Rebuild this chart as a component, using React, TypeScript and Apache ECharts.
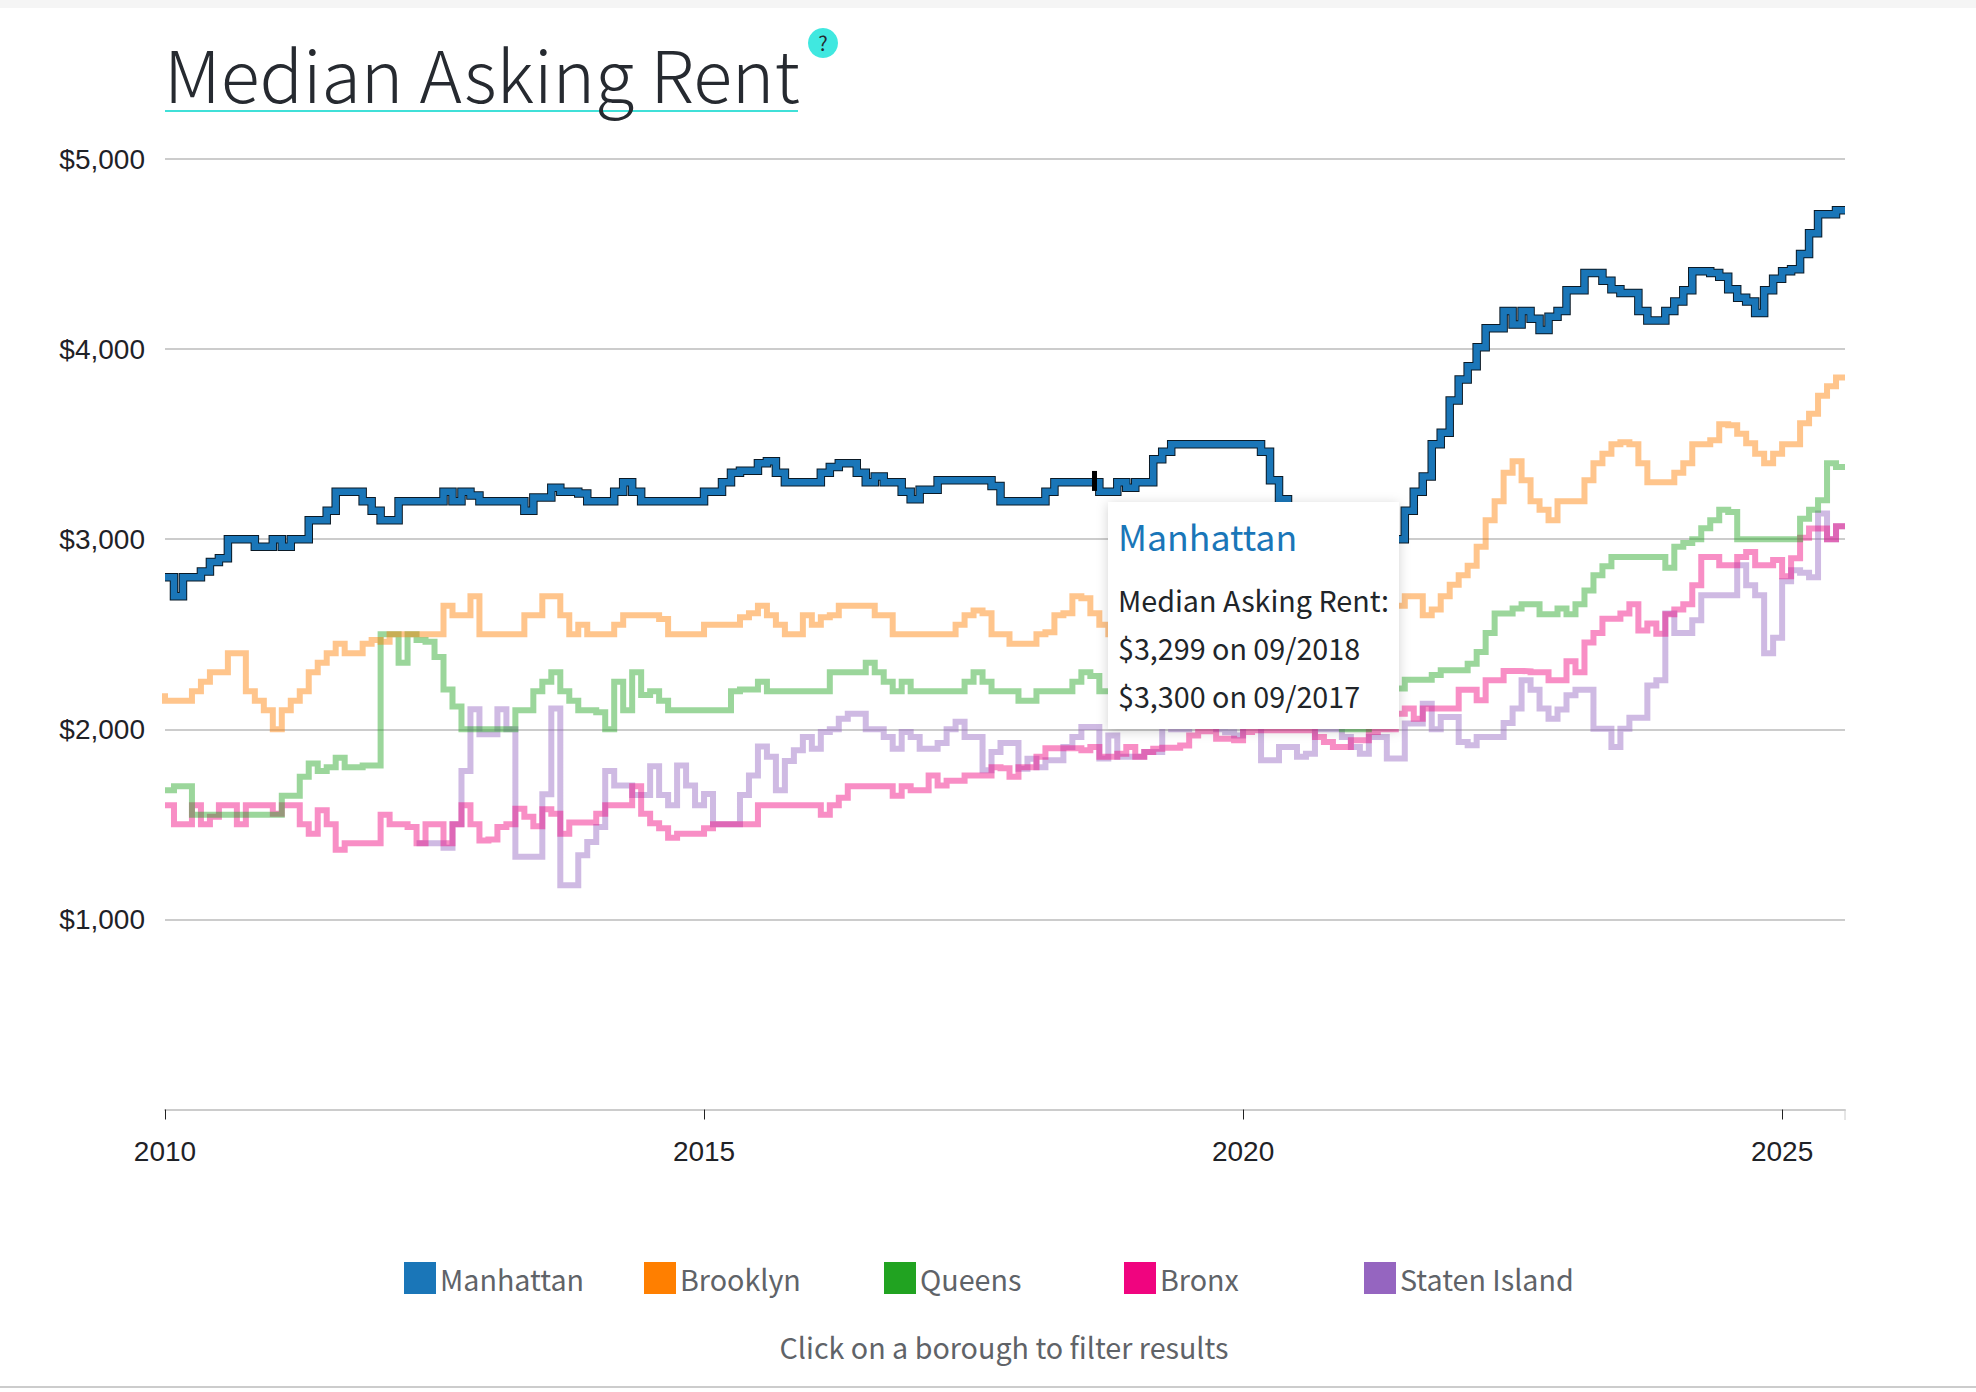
import React, { useEffect, useRef } from "react";
import * as echarts from "echarts";

const N: null = null;
const manhattan = [
  2800,2800,2700,2800,2800,2830,2880,2900,3000,3000,3000,2960,
  2960,3000,2960,3000,3000,3100,3100,3150,3250,3250,3250,3200,
  3150,3100,3100,3200,3200,3200,3200,3200,3250,3200,3250,3230,
  3200,3200,3200,3200,3200,3150,3220,3220,3270,3250,3250,3240,
  3200,3200,3200,3250,3300,3250,3200,3200,3200,3200,3200,3200,
  3200,3250,3250,3300,3350,3360,3360,3400,3410,3350,3300,3300,
  3300,3300,3350,3380,3400,3400,3350,3300,3330,3300,3300,3250,
  3210,3260,3260,3310,3310,3310,3310,3310,3310,3280,3200,3200,
  3200,3200,3200,3250,3300,3300,3300,3300,3300,3250,3250,3300,
  3270,3300,3300,3420,3460,3500,3500,3500,3500,3500,3500,3500,
  3500,3500,3500,3460,3310,3210,3150,3100,3050,3000,3000,2950,
  2950,2900,2900,2950,2950,3000,3000,3150,3250,3330,3500,3560,
  3730,3840,3910,4010,4110,4110,4200,4130,4200,4160,4100,4170,
  4200,4310,4310,4400,4400,4360,4315,4295,4295,4200,4150,4150,
  4200,4250,4310,4410,4410,4400,4380,4315,4270,4250,4190,4310,
  4370,4410,4420,4500,4610,4710,4710,4730,
];
const brooklyn = [
  2190,2150,2150,2150,2200,2250,2300,2300,2400,2400,2200,2150,
  2100,2000,2100,2150,2200,2300,2350,2400,2450,2400,2400,2450,
  2470,2460,2500,2500,2500,2500,2500,2500,2650,2600,2600,2700,
  2500,2500,2500,2500,2500,2600,2600,2700,2700,2600,2500,2550,
  2500,2500,2500,2550,2600,2600,2600,2600,2580,2500,2500,2500,
  2500,2550,2550,2550,2550,2590,2610,2650,2600,2550,2500,2500,
  2600,2550,2590,2600,2650,2650,2650,2650,2600,2600,2500,2500,
  2500,2500,2500,2500,2500,2550,2600,2625,2610,2500,2500,2450,
  2450,2450,2500,2510,2600,2610,2700,2690,2610,2550,2500,2500,
  2450,2500,2550,2600,2550,2500,2550,2500,2450,2500,2550,2600,
  2600,2550,2450,2400,2350,2300,2350,2400,2450,2500,2550,2600,
  2600,2550,2600,2650,2650,2650,2650,2700,2700,2600,2630,2700,
  2760,2810,2860,2960,3100,3200,3350,3410,3310,3200,3155,3100,
  3200,3200,3200,3310,3400,3450,3500,3510,3500,3400,3300,3300,
  3300,3350,3400,3500,3500,3520,3605,3600,3555,3505,3450,3400,
  3450,3500,3500,3610,3660,3755,3805,3850,
];
const queens = [
  1680,1680,1700,1700,1550,1550,1550,1550,1550,1550,1550,1550,
  1550,1550,1650,1650,1750,1820,1780,1800,1850,1800,1800,1810,
  1810,2500,2500,2350,2500,2470,2460,2380,2210,2120,2000,2000,
  2000,2000,2000,2000,2100,2100,2200,2250,2300,2200,2150,2100,
  2100,2090,2000,2250,2100,2300,2180,2200,2150,2100,2100,2100,
  2100,2100,2100,2100,2200,2210,2210,2250,2200,2200,2200,2200,
  2200,2200,2200,2300,2300,2300,2300,2350,2300,2250,2200,2250,
  2200,2200,2200,2200,2200,2200,2250,2300,2250,2200,2200,2200,
  2150,2150,2200,2200,2200,2200,2250,2300,2280,2200,2200,2200,
  2150,2200,2200,2250,2300,2250,2200,2200,2150,2200,2200,2250,
  2250,2200,2150,2100,2100,2050,2100,2100,2050,2050,2050,2050,
  2000,2000,2000,2100,2150,2200,2214,2260,2260,2260,2285,2310,
  2310,2310,2345,2407,2507,2609,2609,2635,2658,2658,2605,2605,
  2635,2605,2658,2730,2810,2858,2907,2907,2907,2907,2907,2907,
  2850,2960,2980,3000,3057,3100,3155,3143,3000,3000,3000,3000,
  3000,3000,3000,3108,3155,3205,3400,3380,
];
const bronx = [
  1600,1600,1500,1500,1600,1500,1540,1600,1600,1500,1600,1600,
  1600,1556,1600,1600,1500,1450,1574,1500,1367,1400,1400,1400,
  1400,1550,1500,1500,1486,1400,1500,1500,1400,1500,1600,1500,
  1415,1420,1486,1500,1582,1540,1490,1580,1556,1450,1510,1510,
  1510,1556,1600,1600,1600,1700,1556,1506,1480,1430,1450,1450,
  1450,1480,1500,1500,1500,1500,1500,1600,1600,1600,1600,1600,
  1600,1600,1550,1600,1640,1700,1700,1700,1700,1700,1650,1700,
  1680,1680,1757,1705,1730,1730,1757,1757,1757,1800,1795,1750,
  1800,1800,1855,1900,1900,1900,1900,1890,1907,1855,1855,1872,
  1907,1855,1880,1898,1903,1903,1915,1968,1990,1990,1950,1950,
  1942,1986,1995,1995,1995,1995,1995,1995,1995,1960,1933,1907,
  1907,1942,1942,1986,2000,2000,2082,2109,2056,2109,2109,2109,
  2109,2208,2208,2153,2258,2258,2307,2307,2305,2300,2300,2258,
  2258,2358,2300,2456,2507,2582,2582,2609,2658,2520,2556,2503,
  2605,2630,2658,2758,2907,2907,2863,2863,2907,2933,2863,2863,
  2890,2805,2900,3008,3056,3056,3000,3068,
];
const statenIsland = [
  N,N,N,N,N,N,N,N,N,N,N,N,
  N,N,N,N,N,N,N,N,N,N,N,N,
  N,N,N,N,N,1400,1400,1400,1377,1500,1780,2105,
  1974,1974,2105,2000,1330,1330,1330,1658,2109,1180,1180,1337,
  1407,1486,1780,1705,1705,1655,1655,1805,1655,1600,1810,1705,
  1600,1660,1500,1500,1500,1655,1757,1910,1855,1680,1833,1890,
  1960,1898,1986,2000,2056,2082,2082,2000,2000,1960,1898,1986,
  1960,1898,1898,1928,2000,2040,1960,1960,1784,1880,1928,1928,
  1793,1845,1800,1837,1837,1907,1960,2012,2012,1846,1968,1855,
  1855,1855,1880,1880,2050,2000,2000,2100,2100,2050,2000,1985,
  1968,2050,2050,1837,1837,1907,1907,1855,1872,2000,2000,2000,
  1960,1907,1872,1960,1960,1846,1846,2030,2030,2135,2000,2065,
  2065,1933,1916,1960,1960,1960,2033,2109,2258,2208,2109,2056,
  2104,2179,2208,2208,2003,2003,1907,2003,2061,2061,2231,2258,
  2609,2507,2507,2573,2705,2705,2705,2705,2863,2758,2705,2400,
  2482,2779,2837,2823,2800,3135,3000,3068,
];
const boroughs = ["Manhattan", "Brooklyn", "Queens", "Bronx", "Staten Island"];
const colors = ["#1a76b8", "#ff7f00", "#21a321", "#f0047f", "#9565c0"];
const startYear = 2010;
const tickYears = [2010, 2015, 2020, 2025];
const tooltipLines = ["Median Asking Rent:", "$3,299 on 09/2018", "$3,300 on 09/2017"];
const hoverMonth = 103.4;
const hoverRange = [3254, 3359];

const FONT = '"Noto Sans CJK SC", "Noto Sans", sans-serif';
const toPoints = (vals: (number | null)[]) => vals.map((v, i) => [startYear + i / 12, v]);
const lastX = startYear + (manhattan.length - 1) / 12;

export default function App() {
  const ref = useRef<HTMLDivElement>(null);
  useEffect(() => {
    document.body.style.margin = "0";
    const chart = echarts.init(ref.current!, null, { renderer: "svg" });
    const line = (name: string, data: (number | null)[], color: string, width: number, opacity: number, z: number, extra: any = {}) => ({
      type: "line", name, data: toPoints(data), step: "start", showSymbol: false, symbol: "none",
      connectNulls: false, silent: true, z,
      lineStyle: { color, width, opacity, join: "miter", cap: "butt" },
      itemStyle: { color }, ...extra,
    });
    const hoverX = startYear + hoverMonth / 12;
    chart.setOption({
      animation: false,
      backgroundColor: "#ffffff",
      grid: { left: 165, right: 131, top: 159, bottom: 282.5 },
      xAxis: {
        type: "value", min: startYear, max: lastX, interval: 5,
        splitLine: { show: false },
        axisLine: { lineStyle: { color: "#cccccc", width: 2 } },
        axisTick: { length: 10, lineStyle: { color: "#222222", width: 1 }, customValues: tickYears },
        axisLabel: { customValues: tickYears, formatter: (v: number) => String(Math.round(v)), margin: 27.5, fontFamily: "Liberation Sans", fontSize: 28, color: "#1f2227" },
      },
      yAxis: {
        type: "value", min: 0, max: 5000, interval: 1000,
        axisLine: { show: false }, axisTick: { show: false },
        splitLine: { lineStyle: { color: "#cccccc", width: 2 } },
        axisLabel: { showMinLabel: false, margin: 20, fontFamily: "Liberation Sans", fontSize: 28, color: "#1f2227",
          formatter: (v: number) => "$" + v.toLocaleString("en-US") },
      },
      legend: boroughs.map((name, i) => ({
        left: 404 + i * 240, top: 1262, padding: 0, itemWidth: 32, itemHeight: 32, itemGap: 0, selectedMode: false,
        data: [{ name, icon: "rect", itemStyle: { color: colors[i], opacity: 1, borderWidth: 0 } }],
        textStyle: { fontFamily: FONT, fontSize: 28.7, color: "#5f6368", padding: [0, 0, 4, -1] },
      })),
      series: [
        line("Staten Island", statenIsland, colors[4], 6, 0.45, 2),
        line("Bronx", bronx, colors[3], 6, 0.45, 3),
        line("Queens", queens, colors[2], 6, 0.45, 4),
        line("Brooklyn", brooklyn, colors[1], 6, 0.45, 5),
        line("Manhattan outline", manhattan, "#0b1a26", 8.5, 1, 6),
        line("Manhattan", manhattan, colors[0], 6.5, 1, 7, {
          markLine: { silent: true, symbol: "none", label: { show: false }, lineStyle: { color: "#000000", width: 5, type: "solid", opacity: 1 }, z: 9,
            data: [[{ coord: [hoverX, hoverRange[0]], lineStyle: { color: "#000000", width: 5, type: "solid", opacity: 1 } }, { coord: [hoverX, hoverRange[1]] }]] },
        }),
      ],
      graphic: [
        { type: "rect", z: 50, shape: { x: 0, y: 0, width: 1976, height: 8 }, style: { fill: "#f5f5f5" } },
        { type: "rect", z: 50, shape: { x: 0, y: 1386, width: 1976, height: 2 }, style: { fill: "#cccccc" } },
        { type: "rect", z: 50, shape: { x: 165, y: 110, width: 633, height: 2 }, style: { fill: "#40e0d8" } },
        { type: "text", z: 51, style: { text: "Median Asking Rent", x: 164, y: 71, fontFamily: FONT, fontSize: 72, fontWeight: 300, fill: "#262a30", verticalAlign: "middle", align: "left" } },
        { type: "circle", z: 50, shape: { cx: 823, cy: 43, r: 15 }, style: { fill: "#40e8e0" } },
        { type: "text", z: 51, style: { text: "?", x: 823, y: 42, fontFamily: FONT, fontSize: 20, fill: "#262a30", align: "center", verticalAlign: "middle" } },
        { type: "line", z: 50, shape: { x1: 1845, y1: 1110, x2: 1845, y2: 1120 }, style: { stroke: "#cccccc", lineWidth: 1 } },
        { type: "text", z: 51, style: { text: "Click on a borough to filter results", x: 1004, y: 1346, fontFamily: FONT, fontSize: 28.7, fill: "#5f6368", align: "center", verticalAlign: "middle" } },
        { type: "rect", z: 60, shape: { x: 1108, y: 502, width: 291, height: 227 }, style: { fill: "#ffffff", shadowBlur: 12, shadowColor: "rgba(0,0,0,0.18)", shadowOffsetX: 0, shadowOffsetY: 2 } },
        { type: "text", z: 61, style: { text: boroughs[0], x: 1118, y: 535, fontFamily: FONT, fontSize: 35.7, fill: colors[0], align: "left", verticalAlign: "middle" } },
        ...tooltipLines.map((text, i) => ({ type: "text", z: 61, style: { text, x: 1118, y: 599 + i * 48, fontFamily: FONT, fontSize: 28.7, fill: "#212529", align: "left", verticalAlign: "middle" } })),
      ],
    });
    return () => chart.dispose();
  }, []);
  return <div ref={ref} style={{ width: 1976, height: 1392 }} />;
}
